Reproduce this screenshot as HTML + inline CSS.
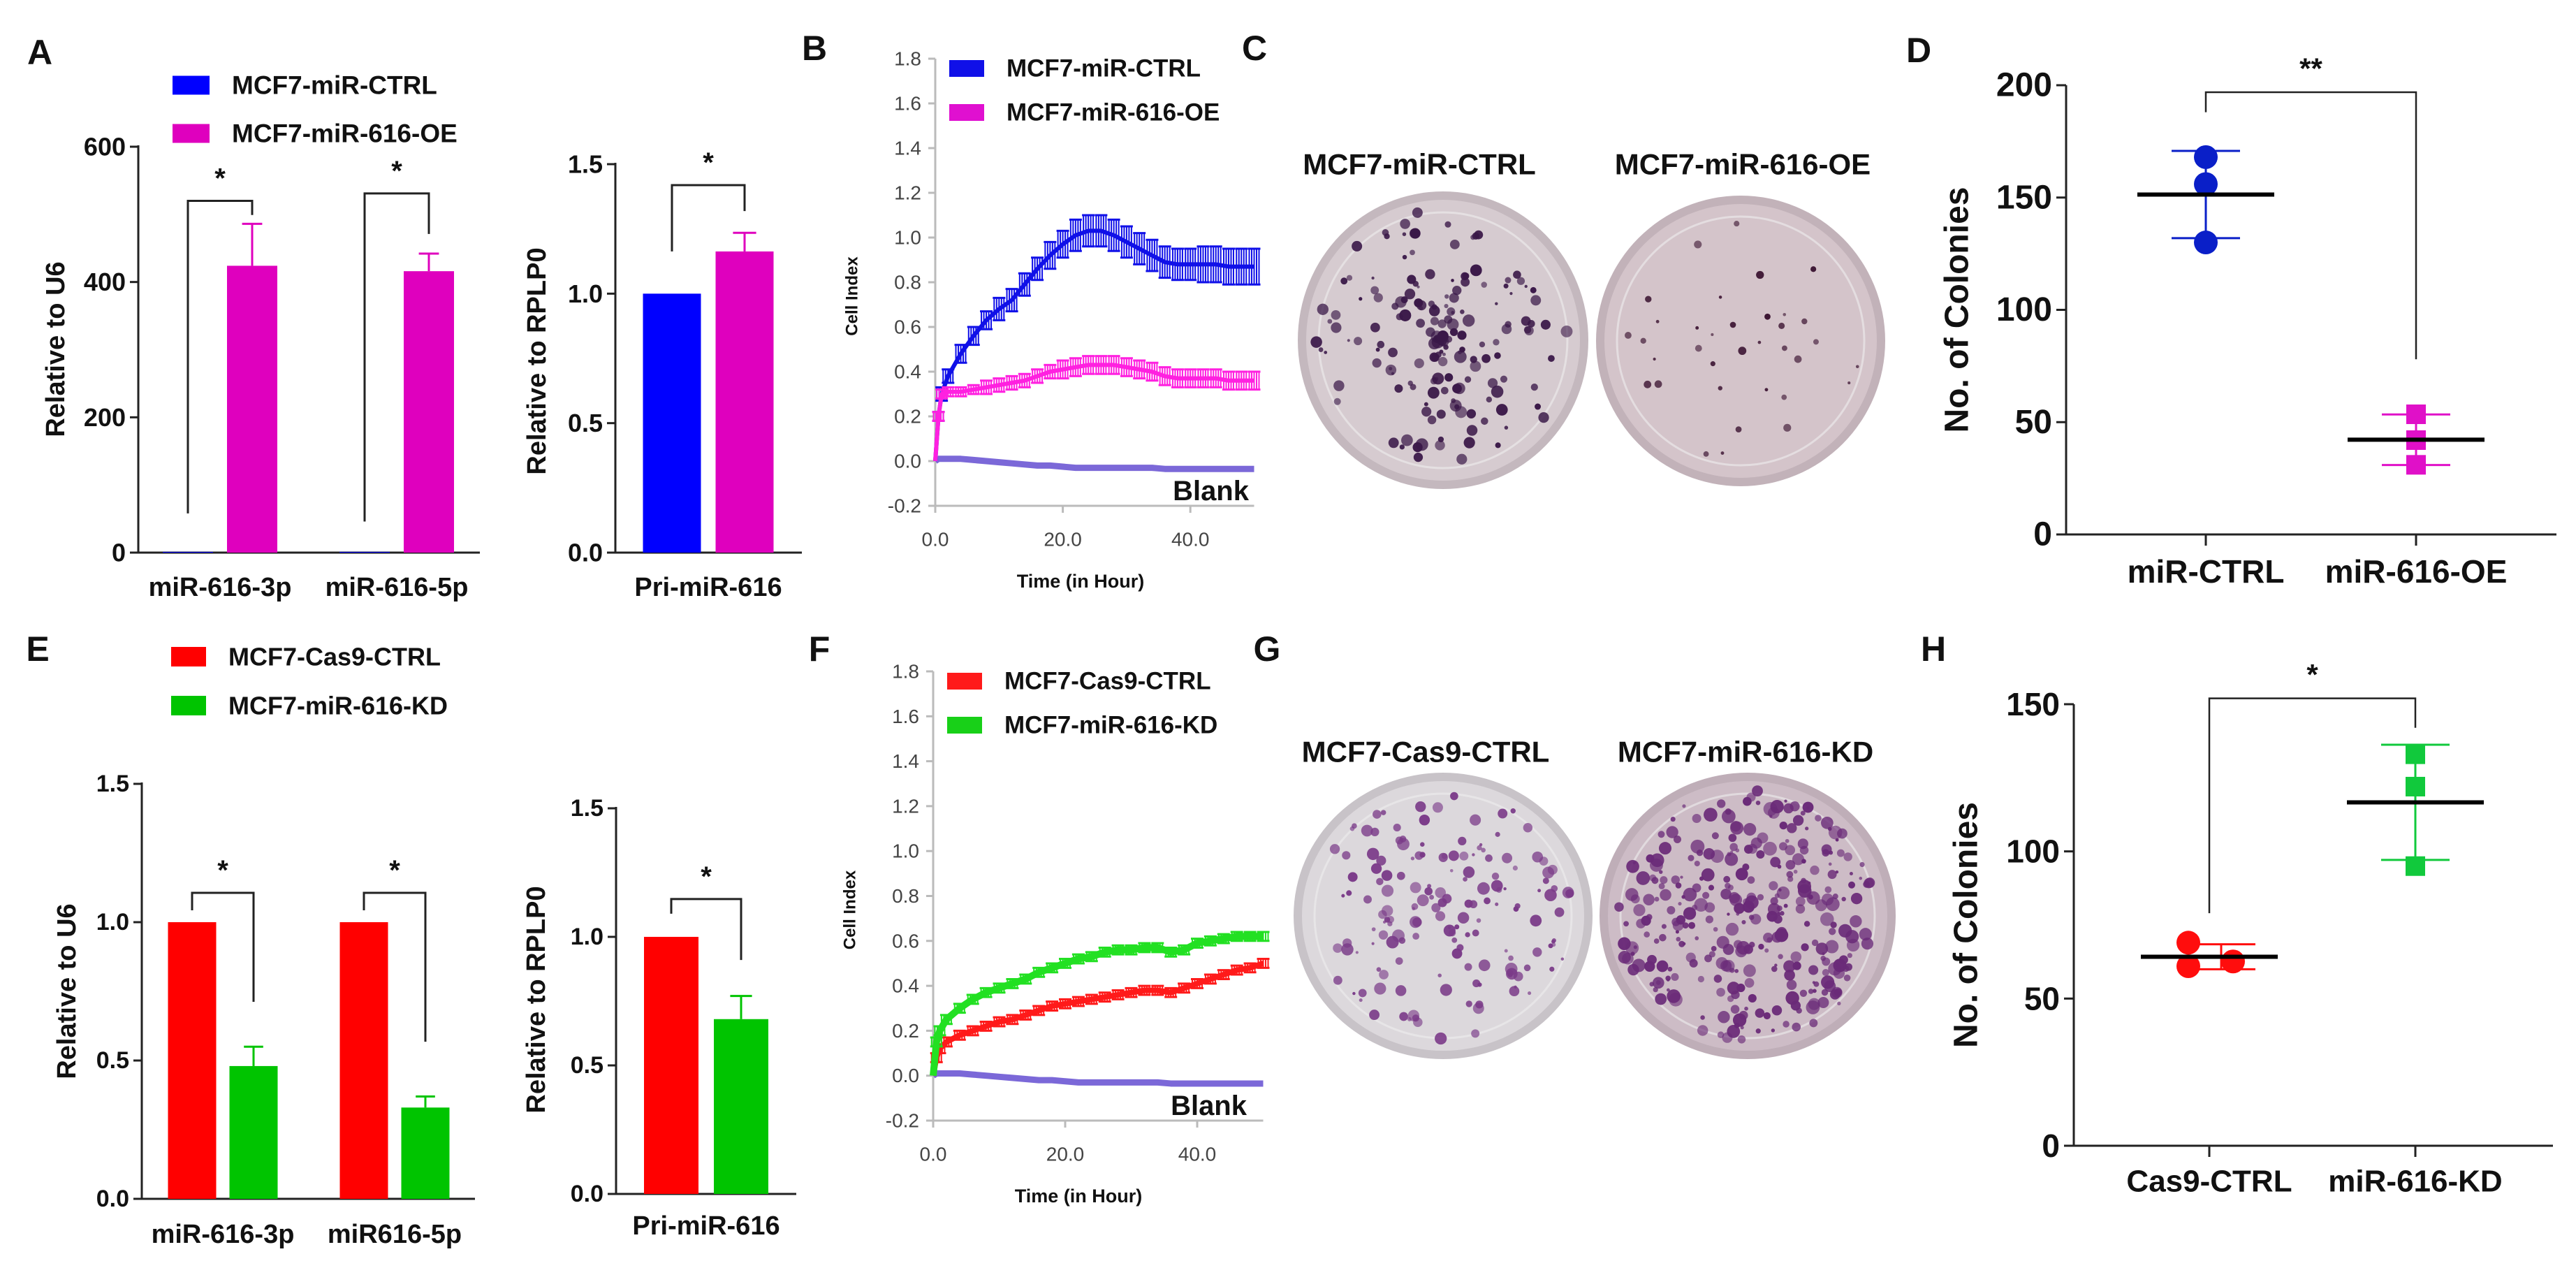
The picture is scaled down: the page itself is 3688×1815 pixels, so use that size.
<!DOCTYPE html>
<html><head><meta charset="utf-8">
<style>
html,body{margin:0;padding:0;background:#fff;}
svg{display:block;font-family:"Liberation Sans",Arial,sans-serif;}
</style></head>
<body>
<svg id="fig" xmlns="http://www.w3.org/2000/svg" width="3688" height="1815" viewBox="0 0 3688 1815"></svg>
<script>
// ---------- DATA ----------
const A_cats = ['miR-616-3p','miR-616-5p'];
const A_ctrl = [1, 1];
const A_oe = [424, 416];
const A_oeErr = [62, 26];
const A_ticks = [0, 200, 400, 600];
const A_brTop = [520, 531];
const A_brLeft = [58, 46];
const A_brRight = [499, 471];

const A2_cats = ['Pri-miR-616'];
const A2_ctrl = [1.0];
const A2_oe = [1.163];
const A2_oeErr = [0.072];
const A2_ticks = [0, 0.5, 1.0, 1.5];
const A2_brTop = [1.419];
const A2_brLeft = [1.163];
const A2_brRight = [1.319];

const E_cats = ['miR-616-3p','miR616-5p'];
const E_ctrl = [1, 1];
const E_kd = [0.48, 0.33];
const E_kdErr = [0.07, 0.04];
const E_ticks = [0, 0.5, 1.0, 1.5];
const E_brTop = [1.106, 1.106];
const E_brLeft = [1.043, 1.043];
const E_brRight = [0.712, 0.568];

const E2_cats = ['Pri-miR-616'];
const E2_ctrl = [1.0];
const E2_kd = [0.68];
const E2_kdErr = [0.09];
const E2_brTop = [1.147];
const E2_brLeft = [1.09];
const E2_brRight = [0.91];

const T_hours = [0,0.5,1,2,4,6,8,10,12,14,16,18,20,22,24,26,28,30,32,34,36,38,40,42,44,46,48,50];
const B_ctrl = [0,0.20,0.30,0.38,0.48,0.56,0.63,0.68,0.72,0.79,0.86,0.92,0.97,1.01,1.03,1.03,1.01,0.98,0.95,0.92,0.89,0.88,0.88,0.88,0.88,0.87,0.87,0.87];
const B_ctrlErr = [0,0.02,0.03,0.03,0.04,0.04,0.04,0.05,0.05,0.05,0.05,0.06,0.06,0.07,0.07,0.07,0.07,0.07,0.07,0.07,0.07,0.07,0.07,0.08,0.08,0.08,0.08,0.08];
const B_oe = [0,0.20,0.30,0.31,0.31,0.32,0.33,0.34,0.35,0.36,0.38,0.40,0.41,0.42,0.43,0.43,0.43,0.42,0.41,0.40,0.38,0.37,0.37,0.37,0.37,0.36,0.36,0.36];
const B_oeErr = [0,0.02,0.02,0.02,0.02,0.02,0.03,0.03,0.03,0.03,0.03,0.03,0.04,0.04,0.04,0.04,0.04,0.04,0.04,0.04,0.04,0.04,0.04,0.04,0.04,0.04,0.04,0.04];
const B_blank = [0,0.01,0.01,0.01,0.01,0.005,0,-0.005,-0.01,-0.015,-0.02,-0.02,-0.025,-0.03,-0.03,-0.03,-0.03,-0.03,-0.03,-0.03,-0.035,-0.035,-0.035,-0.035,-0.035,-0.035,-0.035,-0.035];
const F_ctrl = [0,0.08,0.12,0.15,0.18,0.20,0.22,0.24,0.25,0.27,0.29,0.31,0.32,0.33,0.34,0.35,0.36,0.37,0.38,0.38,0.37,0.39,0.41,0.43,0.45,0.47,0.48,0.50];
const F_kd = [0,0.15,0.20,0.25,0.30,0.34,0.37,0.39,0.41,0.43,0.46,0.48,0.50,0.52,0.53,0.55,0.56,0.56,0.57,0.57,0.55,0.56,0.59,0.60,0.61,0.62,0.62,0.62];
const F_err = [0,0.02,0.02,0.02,0.02,0.02,0.02,0.02,0.02,0.02,0.02,0.02,0.02,0.02,0.02,0.02,0.02,0.02,0.02,0.02,0.02,0.02,0.02,0.02,0.02,0.02,0.02,0.02];
const F_blank = B_blank;
const L_yticks = [-0.2,0,0.2,0.4,0.6,0.8,1.0,1.2,1.4,1.6,1.8];
const L_xticks = [0,20,40];

const D_cats = ['miR-CTRL','miR-616-OE'];
const D_ctrl = [168,156,130];
const D_oe = [53.5,42,31];
const D_ticks = [0,50,100,150,200];
const D_bracket = [196.9, 188, 78];

const H_cats = ['Cas9-CTRL','miR-616-KD'];
const H_ctrl = [69,61,62.6];
const H_kd = [133,122,95];
const H_ticks = [0,50,100,150];
const H_bracket = [152, 79, 142];

// ---------- HELPERS ----------
const NS = 'http://www.w3.org/2000/svg';
const svg = document.getElementById('fig');
function mk(tag, attrs, name, parent){
  const el = document.createElementNS(NS, tag);
  for (const k in attrs) el.setAttribute(k, attrs[k]);
  
  
  (parent||svg).appendChild(el);
  return el;
}
function txt(x,y,s,size,name,opt){
  opt = opt||{};
  const el = mk('text',{x:x,y:y,'font-size':size,'font-weight':opt.w||'bold','text-anchor':opt.a||'middle',fill:opt.fill||'#111','dominant-baseline':'central'},name,opt.parent);
  if (opt.rot) el.setAttribute('transform','rotate(-90 '+x+' '+y+')');
  el.textContent = s;
  return el;
}
function ln(x1,y1,x2,y2,col,w,name){ return mk('line',{x1:x1,y1:y1,x2:x2,y2:y2,stroke:col,'stroke-width':w},name); }
function scaleY(y0,y1,v0,v1){ return v => y0 + (v - v0)*(y1 - y0)/(v1 - v0); }

// ---------- BAR PANELS ----------
function barPanel(cfg){
  const y = scaleY(cfg.y0, cfg.y1, cfg.ticks[0], cfg.ticks[cfg.ticks.length-1]);
  ln(cfg.ax, cfg.y1-2, cfg.ax, cfg.y0, '#222', 3, cfg.id+'-y-axis');
  ln(cfg.ax, cfg.y0, cfg.xEnd, cfg.y0, '#222', 3, cfg.id+'-x-axis');
  cfg.ticks.forEach(t=>{
    ln(cfg.ax-12, y(t), cfg.ax, y(t), '#222', 3, cfg.id+'-y-tick');
    txt(cfg.ax-18, y(t), cfg.fmt(t), cfg.tickSize, cfg.id+'-y-tick-label', {a:'end'});
  });
  txt(cfg.titleX, cfg.titleY, cfg.title, cfg.titleSize, cfg.id+'-y-axis-title', {rot:true});
  cfg.cats.forEach((c,i)=>{
    const gc = cfg.g0 + i*cfg.gs;
    const xa = gc - cfg.off, xb = gc + cfg.off;
    mk('rect',{x:xa-cfg.bw/2,y:y(cfg.a[i]),width:cfg.bw,height:cfg.y0-y(cfg.a[i]),fill:cfg.colA},cfg.id+'-bar-ctrl-'+i);
    const top = y(cfg.b[i]), et = y(cfg.b[i]+cfg.err[i]);
    ln(xb, top, xb, et, cfg.colB, 3, cfg.id+'-error-bar');
    ln(xb-cfg.bw*0.2, et, xb+cfg.bw*0.2, et, cfg.colB, 3, cfg.id+'-error-cap');
    mk('rect',{x:xb-cfg.bw/2,y:top,width:cfg.bw,height:cfg.y0-top,fill:cfg.colB},cfg.id+'-bar-treat-'+i);
    txt(gc, cfg.labelY, c, cfg.labelSize, cfg.id+'-x-label');
    const bt = y(cfg.brTop[i]);
    mk('path',{d:'M'+xa+' '+y(cfg.brLeft[i])+' V'+bt+' H'+xb+' V'+y(cfg.brRight[i]),fill:'none',stroke:'#222','stroke-width':3},cfg.id+'-sig-bracket');
    txt((xa+xb)/2, bt-32, '*', 40, cfg.id+'-sig-star');
  });
}
const f0 = t=>String(t), f1 = t=>t.toFixed(1);
barPanel({id:'a1',ax:198,xEnd:687,y0:791,y1:210,ticks:A_ticks,fmt:f0,tickSize:36,title:'Relative to U6',titleX:80,titleY:500,titleSize:38,
  cats:A_cats,a:A_ctrl,b:A_oe,err:A_oeErr,g0:315,gs:253,off:46,bw:72,colA:'#0000ff',colB:'#df00be',labelY:841,labelSize:38,brTop:A_brTop,brLeft:A_brLeft,brRight:A_brRight});
barPanel({id:'a2',ax:881,xEnd:1148,y0:791,y1:235,ticks:A2_ticks,fmt:f1,tickSize:36,title:'Relative to RPLP0',titleX:769,titleY:517,titleSize:38,
  cats:A2_cats,a:A2_ctrl,b:A2_oe,err:A2_oeErr,g0:1014,gs:0,off:52,bw:83,colA:'#0000ff',colB:'#df00be',labelY:841,labelSize:38,brTop:A2_brTop,brLeft:A2_brLeft,brRight:A2_brRight});
barPanel({id:'e1',ax:203,xEnd:680,y0:1716,y1:1122,ticks:E_ticks,fmt:f1,tickSize:34,title:'Relative to U6',titleX:96,titleY:1419,titleSize:38,
  cats:E_cats,a:E_ctrl,b:E_kd,err:E_kdErr,g0:319,gs:246,off:44,bw:69,colA:'#ff0000',colB:'#00c400',labelY:1767,labelSize:38,brTop:E_brTop,brLeft:E_brLeft,brRight:E_brRight});
barPanel({id:'e2',ax:882,xEnd:1140,y0:1709,y1:1157,ticks:E_ticks,fmt:f1,tickSize:34,title:'Relative to RPLP0',titleX:768,titleY:1431,titleSize:38,
  cats:E2_cats,a:E2_ctrl,b:E2_kd,err:E2_kdErr,g0:1011,gs:0,off:50,bw:78,colA:'#ff0000',colB:'#00c400',labelY:1755,labelSize:38,brTop:E2_brTop,brLeft:E2_brLeft,brRight:E2_brRight});

// legends A/E
function legend(x,y,gap,w,h,items,size,id){
  items.forEach((it,i)=>{
    mk('rect',{x:x,y:y+i*gap-h/2,width:w,height:h,fill:it[1]},id+'-legend-swatch-'+i);
    txt(x+w+32, y+i*gap, it[0], size, id+'-legend-label-'+i, {a:'start'});
  });
}
legend(247,122,69,53,27,[['MCF7-miR-CTRL','#0000ff'],['MCF7-miR-616-OE','#df00be']],37,'a');
legend(245,940,70,50,28,[['MCF7-Cas9-CTRL','#ff0000'],['MCF7-miR-616-KD','#00c400']],36,'e');

// ---------- LINE PANELS ----------
function linePanel(cfg){
  const y = scaleY(cfg.y0, cfg.y1, -0.2, 1.8);
  const x = v => cfg.ax + v*cfg.pxh;
  ln(cfg.ax, cfg.y1, cfg.ax, cfg.y0, '#bbb', 3, cfg.id+'-y-axis');
  ln(cfg.ax, cfg.y0, cfg.ax+50*cfg.pxh, cfg.y0, '#bbb', 3, cfg.id+'-x-axis');
  L_yticks.forEach(t=>{
    ln(cfg.ax-10, y(t), cfg.ax, y(t), '#bbb', 3, cfg.id+'-y-tick');
    txt(cfg.ax-20, y(t), t.toFixed(1), 28, cfg.id+'-y-tick-label', {a:'end',w:'normal',fill:'#444'});
  });
  L_xticks.forEach(t=>{
    ln(x(t), cfg.y0, x(t), cfg.y0+10, '#bbb', 3, cfg.id+'-x-tick');
    txt(x(t), cfg.y0+48, t.toFixed(1), 28, cfg.id+'-x-tick-label', {w:'normal',fill:'#444'});
  });
  txt(cfg.ax+208, cfg.y0+108, 'Time (in Hour)', 27, cfg.id+'-x-axis-title');
  txt(cfg.ax-119, (cfg.y0+cfg.y1)/2+20, 'Cell Index', 24, cfg.id+'-y-axis-title', {rot:true});
  cfg.series.forEach((s,si)=>{
    let d='';
    T_hours.forEach((t,i)=>{ d += (i?'L':'M')+x(t)+' '+y(s.v[i]); });
    if (s.e){
      T_hours.forEach((t,i)=>{
        if (!s.e[i]) return;
        for (let k=-2;k<=2;k++){
          const xx = x(t)+k*3.5;
          ln(xx, y(s.v[i]+s.e[i]), xx, y(s.v[i]-s.e[i]), s.c, 2, cfg.id+'-error-bar-'+si);
        }
        ln(x(t)-9, y(s.v[i]+s.e[i]), x(t)+9, y(s.v[i]+s.e[i]), s.c, 3, cfg.id+'-error-cap');
        ln(x(t)-9, y(s.v[i]-s.e[i]), x(t)+9, y(s.v[i]-s.e[i]), s.c, 3, cfg.id+'-error-cap');
      });
    }
    mk('path',{d:d,fill:'none',stroke:s.c,'stroke-width':s.w,'stroke-linejoin':'round'},cfg.id+'-line-'+s.n);
  });
  txt(cfg.ax+449, cfg.y0-21, 'Blank', 40, cfg.id+'-blank-label', {a:'end'});
  legend(cfg.ax+20, cfg.y1+14, 63, 50, 24, cfg.leg, 35, cfg.id);
}
linePanel({id:'b',ax:1339,y0:724,y1:84,pxh:9.13,leg:[['MCF7-miR-CTRL','#1010e8'],['MCF7-miR-616-OE','#e010d0']],series:[
  {n:'blank',v:B_blank,e:null,c:'#7b68d8',w:9},
  {n:'ctrl',v:B_ctrl,e:B_ctrlErr,c:'#1010e8',w:6},
  {n:'oe',v:B_oe,e:B_oeErr,c:'#ff20e0',w:6}]});
linePanel({id:'f',ax:1336,y0:1604,y1:961,pxh:9.45,leg:[['MCF7-Cas9-CTRL','#ff1a1a'],['MCF7-miR-616-KD','#18d018']],series:[
  {n:'blank',v:F_blank,e:null,c:'#7b68d8',w:9},
  {n:'ctrl',v:F_ctrl,e:F_err,c:'#ff1a1a',w:8},
  {n:'kd',v:F_kd,e:F_err,c:'#22e022',w:10}]});

// ---------- DOT PANELS ----------
function mean(a){return a.reduce((s,v)=>s+v,0)/a.length;}
function sd(a){const m=mean(a);return Math.sqrt(a.reduce((s,v)=>s+(v-m)*(v-m),0)/(a.length-1));}
function dotPanel(cfg){
  const y = scaleY(cfg.y0, cfg.y1, 0, cfg.ticks[cfg.ticks.length-1]);
  ln(cfg.ax, cfg.y1, cfg.ax, cfg.y0, '#222', 3, cfg.id+'-y-axis');
  ln(cfg.ax, cfg.y0, cfg.xEnd, cfg.y0, '#222', 3, cfg.id+'-x-axis');
  cfg.ticks.forEach(t=>{
    ln(cfg.ax-14, y(t), cfg.ax, y(t), '#222', 3, cfg.id+'-y-tick');
    txt(cfg.ax-20, y(t), String(t), cfg.tickSize, cfg.id+'-y-tick-label', {a:'end'});
  });
  txt(cfg.titleX, (cfg.y0+cfg.y1)/2, 'No. of Colonies', 48, cfg.id+'-y-axis-title', {rot:true});
  cfg.groups.forEach((g,gi)=>{
    const cx = cfg.cx[gi];
    ln(cx, cfg.y0, cx, cfg.y0+16, '#222', 3, cfg.id+'-x-tick');
    txt(cx, cfg.labelY, cfg.cats[gi], cfg.labelSize, cfg.id+'-x-label');
    const m = mean(g.v), s = sd(g.v);
    const ex = cx + (g.sdOff||0);
    ln(ex, y(m+s), ex, y(m-s), g.c, 3, cfg.id+'-sd-bar');
    ln(ex-49, y(m+s), ex+49, y(m+s), g.c, 3, cfg.id+'-sd-cap');
    ln(ex-49, y(m-s), ex+49, y(m-s), g.c, 3, cfg.id+'-sd-cap');
    g.v.forEach((v,i)=>{
      const px = cx + (g.jit ? g.jit[i] : 0);
      if (g.shape==='c') mk('ellipse',{cx:px,cy:y(v),rx:17,ry:17,fill:g.c},cfg.id+'-point');
      else mk('rect',{x:px-14,y:y(v)-14,width:28,height:28,fill:g.c},cfg.id+'-point');
    });
    ln(cx-98, y(m), cx+98, y(m), '#000', 6, cfg.id+'-mean-line');
  });
  const b = cfg.br;
  mk('path',{d:'M'+cfg.cx[0]+' '+y(b[1])+' V'+y(b[0])+' H'+cfg.cx[1]+' V'+y(b[2]),fill:'none',stroke:'#222','stroke-width':2.5},cfg.id+'-sig-bracket');
  txt((cfg.cx[0]+cfg.cx[1])/2, y(b[0])-34, cfg.star, 42, cfg.id+'-sig-star');
}
dotPanel({id:'d',ax:2958,xEnd:3660,y0:765,y1:122,ticks:D_ticks,tickSize:48,titleX:2802,cx:[3158,3459],cats:D_cats,labelY:818,labelSize:46,br:D_bracket,star:'**',
  groups:[{v:D_ctrl,c:'#0a1fc8',shape:'c'},{v:D_oe,c:'#e010c8',shape:'s'}]});
dotPanel({id:'h',ax:2969,xEnd:3655,y0:1640,y1:1008,ticks:H_ticks,tickSize:46,titleX:2815,cx:[3163,3458],cats:H_cats,labelY:1691,labelSize:44,br:H_bracket,star:'*',
  groups:[{v:H_ctrl,c:'#ff0d0d',shape:'c',jit:[-30,-30,34],sdOff:17},{v:H_kd,c:'#11c93c',shape:'s'}]});

// ---------- PLATE PHOTOS (decorative) ----------
let seed = 12345;
function rnd(){ seed = (seed*1103515245 + 12345) % 2147483648; return seed/2147483648; }
function plate(cx,cy,rx,ry,bg,rim,n,dotCol,rmax,conc,id){
  const g = mk('g',{},id);
  mk('ellipse',{cx:cx,cy:cy,rx:rx,ry:ry,fill:rim},id+'-rim',g);
  mk('ellipse',{cx:cx,cy:cy,rx:rx-12,ry:ry-12,fill:bg},id+'-dish',g);
  mk('ellipse',{cx:cx,cy:cy,rx:rx-30,ry:ry-30,fill:'none',stroke:'#eee','stroke-width':3,opacity:0.6},id+'-inner-ring',g);
  for (let i=0;i<n;i++){
    const a = rnd()*Math.PI*2, r = Math.pow(rnd(), conc);
    const px = cx + Math.cos(a)*r*(rx-25), py = cy + Math.sin(a)*r*(ry-25);
    mk('circle',{cx:px,cy:py,r:2+rnd()*rmax,fill:dotCol,opacity:0.6+rnd()*0.4},id+'-colony',g);
  }
}
txt(2032,235,'MCF7-miR-CTRL',42,'c-title-ctrl');
txt(2495,235,'MCF7-miR-616-OE',42,'c-title-oe');
plate(2066,487,208,213,'#d6cbd0','#c4b8be',170,'#3a1848',7,0.9,'c-plate-ctrl');
plate(2492,488,207,208,'#d4c4ca','#c2b2b9',35,'#3a1230',4,0.7,'c-plate-oe');
txt(2041,1076,'MCF7-Cas9-CTRL',42,'g-title-ctrl');
txt(2499,1076,'MCF7-miR-616-KD',42,'g-title-kd');
plate(2066,1311,214,205,'#dcd8dc','#c8c3c8',160,'#7a3a88',7,0.6,'g-plate-ctrl');
plate(2502,1311,212,205,'#cdbcc6','#bfaeb8',320,'#6a2a78',8,0.6,'g-plate-kd');

// ---------- PANEL LETTERS ----------
[['A',57,75],['B',1166,69],['C',1796,69],['D',2747,72],['E',54,929],['F',1173,929],['G',1814,929],['H',2768,929]].forEach(p=>{
  txt(p[1],p[2],p[0],50,'panel-label-'+p[0].toLowerCase());
});
</script>
</body></html>
